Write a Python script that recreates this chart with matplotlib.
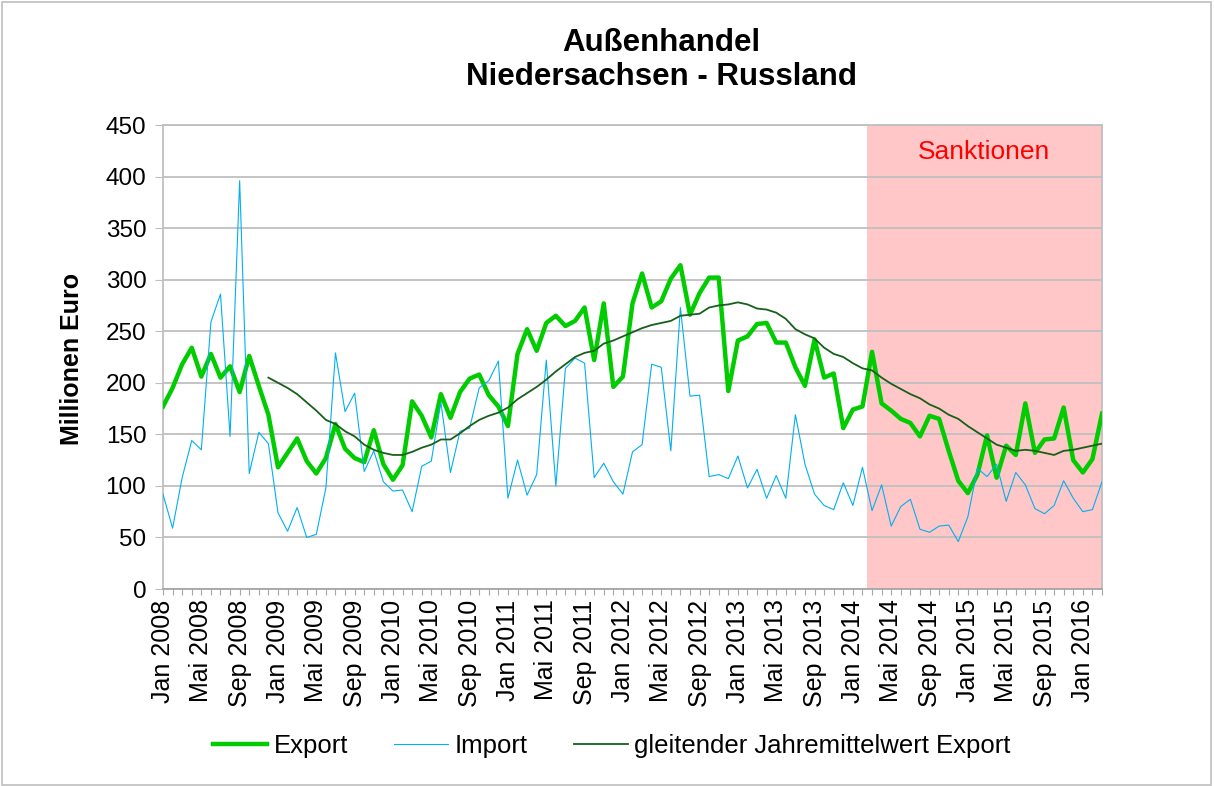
import matplotlib
matplotlib.use("Agg")
import matplotlib.pyplot as plt
from matplotlib.patches import Rectangle

plt.rcParams['font.family'] = ['Liberation Sans', 'DejaVu Sans']

# Monatswerte Jan 2008 - Mar 2016 (Mio. Euro)
start_year = 2008
months_de = ['Jan', 'Feb', 'Mär', 'Apr', 'Mai', 'Jun',
             'Jul', 'Aug', 'Sep', 'Okt', 'Nov', 'Dez']

export = [177, 195, 218, 234, 206, 228, 205, 216, 191, 226, 197, 169,
          118, 132, 146, 124, 112, 127, 160, 136, 127, 123, 154, 121,
          106, 120, 182, 168, 147, 189, 166, 191, 204, 208, 188, 177,
          158, 228, 252, 231, 258, 265, 255, 260, 273, 222, 277, 196,
          206, 277, 306, 273, 279, 301, 314, 266, 287, 302, 302, 192,
          241, 245, 257, 258, 239, 239, 215, 197, 242, 205, 209, 156,
          174, 177, 230, 180, 173, 165, 161, 148, 168, 165, 134, 105,
          93, 111, 149, 108, 139, 130, 180, 132, 145, 146, 176, 125,
          113, 126, 170]

imp = [92, 59, 108, 144, 135, 259, 286, 148, 396, 112, 152, 141,
       74, 56, 79, 50, 53, 98, 229, 172, 190, 114, 134, 104,
       95, 96, 75, 119, 124, 181, 113, 153, 156, 195, 202, 221,
       88, 125, 91, 111, 222, 100, 214, 224, 219, 108, 122, 104,
       92, 133, 140, 218, 215, 134, 273, 187, 188, 109, 111, 107,
       129, 98, 116, 88, 110, 88, 169, 121, 92, 81, 77, 103,
       81, 118, 76, 101, 61, 80, 87, 58, 55, 61, 62, 46,
       70, 117, 109, 121, 85, 113, 101, 78, 73, 81, 105, 88,
       75, 77, 104]

# gleitender Jahresmittelwert, ab Dez 2008
avg_start = 11
avg = [205, 200, 195, 189, 181, 173, 164, 160, 153, 148, 140, 135, 132,
       130, 130, 133, 137, 140, 145, 145, 151, 158, 164, 168, 171,
       176, 184, 190, 196, 203, 211, 218, 225, 229, 231, 238, 241,
       245, 249, 253, 256, 258, 260, 265, 266, 267, 273, 275, 276,
       278, 276, 272, 271, 268, 262, 252, 247, 243, 234, 228, 225,
       219, 214, 212, 205, 199, 194, 189, 185, 179, 175, 169, 165,
       158, 152, 146, 140, 137, 134, 135, 134, 132, 130, 134, 135,
       137, 139, 141]

sanction_start = 73.5  # ab Mär 2014

n = len(export)
x = list(range(n))
labels = []
for i in x:
    if i % 4 == 0:
        labels.append(f"{months_de[i % 12]} {start_year + i // 12}")
    else:
        labels.append("")

W, H = 1214, 786
fig = plt.figure(figsize=(W / 100, H / 100), dpi=100)
ax = fig.add_axes([163 / W, 1 - 589 / H, (1102 - 163) / W, (589 - 125) / H])

ax.axvspan(sanction_start, n - 1, color='#FFC7C7', lw=0, zorder=0.2)

l1, = ax.plot(x, export, color='#00CC00', lw=3.2, label='Export', zorder=3)
l2, = ax.plot(x, imp, color='#00B0F0', lw=0.8, label='Import', zorder=3)
l3, = ax.plot(x[avg_start:], avg, color='#17601A', lw=1.3,
              label='gleitender Jahremittelwert Export', zorder=3)

ax.text(85.7, 424, 'Sanktionen', color='#FF0000', fontsize=19,
        ha='center', va='center')

ax.set_xlim(0, n - 1)
ax.set_ylim(0, 450)
ax.set_yticks(range(0, 451, 50))
ax.set_xticks(x)
ax.set_xticklabels(labels, rotation=90)
ax.tick_params(axis='x', length=4.5, color='#A6A6A6', labelsize=18, pad=3)
ax.tick_params(axis='y', length=6, color='#BFBFBF', labelsize=17.5, pad=6)

ax.set_axisbelow(True)
ax.yaxis.grid(True, color='#BFBFBF', lw=1.3)
for s in ['left', 'right', 'top']:
    ax.spines[s].set_color('#BFBFBF')
    ax.spines[s].set_linewidth(1.3)
ax.spines['bottom'].set_color('#A6A6A6')
ax.spines['bottom'].set_linewidth(1.3)

fig.text(661 / W, 1 - 60 / H, 'Außenhandel\nNiedersachsen - Russland',
         ha='center', va='center', fontsize=22.5, fontweight='bold',
         linespacing=1.17)
fig.text(72 / W, 1 - 359 / H, 'Millionen Euro', rotation=90, ha='center',
         va='center', fontsize=18, fontweight='bold')

fig.legend(handles=[l1, l2, l3], loc='center',
           bbox_to_anchor=(612 / W, 1 - 746 / H), ncol=3, frameon=False,
           fontsize=18.5, handlelength=2.1, handletextpad=0.25,
           columnspacing=1.8)

fig.patches.append(Rectangle((2 / W, 1 / H), (W - 5) / W, (H - 3) / H,
                             transform=fig.transFigure, fill=False,
                             edgecolor='#BFBFBF', lw=1.2))

fig.savefig('out.png', dpi=100)
